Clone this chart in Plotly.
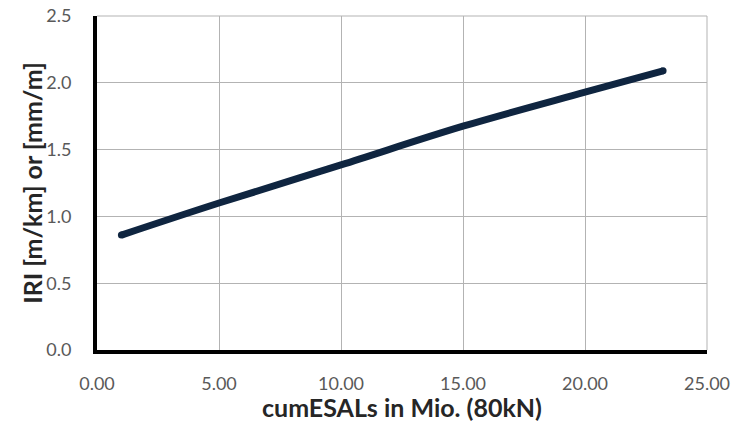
import plotly.graph_objects as go

cum_esals = [1.0, 5.0, 10.0, 15.0, 20.0, 23.2]
iri = [0.86, 1.10, 1.385, 1.675, 1.93, 2.09]

x_ticks = [0, 5, 10, 15, 20, 25]
x_tick_labels = ["0.00", "5.00", "10.00", "15.00", "20.00", "25.00"]
y_ticks = [0, 0.5, 1.0, 1.5, 2.0, 2.5]
y_tick_labels = ["0.0", "0.5", "1.0", "1.5", "2.0", "2.5"]

x_title = "cumESALs in Mio. (80kN)"
y_title = "IRI [m/km] or [mm/m]"

line_color = "#0f2540"
grid_color = "#b3b3b3"
font_family = "Lato, 'Open Sans', sans-serif"

fig = go.Figure()
fig.add_trace(go.Scatter(
    x=cum_esals, y=iri, mode="lines",
    line=dict(color=line_color, width=7, shape="spline"),
    showlegend=False, hoverinfo="skip",
))
fig.add_trace(go.Scatter(
    x=[cum_esals[0], cum_esals[-1]], y=[iri[0], iri[-1]], mode="markers",
    marker=dict(color=line_color, size=7, line=dict(width=0)),
    showlegend=False, hoverinfo="skip",
))

# page body has an 8px default margin, so the figure is sized/placed to compensate
fig.update_layout(
    width=736, height=417,
    margin=dict(l=89, r=37, t=8, b=75),
    paper_bgcolor="white", plot_bgcolor="white",
    font=dict(family=font_family, size=18, color="#595959"),
    xaxis=dict(
        range=[0, 25], tickvals=x_ticks, ticktext=x_tick_labels,
        showgrid=True, gridcolor=grid_color, gridwidth=1,
        showline=True, linecolor="black", linewidth=4,
        zeroline=False, ticks="", ticklabelstandoff=14, automargin=False,
        ticklabeloverflow="allow",
    ),
    yaxis=dict(
        range=[0, 2.5], tickvals=y_ticks, ticktext=y_tick_labels,
        showgrid=True, gridcolor=grid_color, gridwidth=1,
        showline=True, linecolor="black", linewidth=4,
        zeroline=False, ticks="", ticklabelstandoff=18, automargin=False,
        ticklabeloverflow="allow",
    ),
    annotations=[
        dict(text="<b>" + x_title + "</b>", xref="paper", yref="paper",
             x=0.5, y=-0.171, xanchor="center", yanchor="middle",
             showarrow=False, font=dict(size=25, color="#262626")),
        dict(text="<b>" + y_title + "</b>", xref="paper", yref="paper",
             x=-0.107, y=0.5, xanchor="center", yanchor="middle", textangle=-90,
             showarrow=False, font=dict(size=25, color="#262626")),
    ],
)
fig.add_shape(type="line", xref="paper", yref="paper", x0=0, x1=1, y0=1, y1=1,
              line=dict(color=grid_color, width=1), layer="below")
fig.add_shape(type="line", xref="paper", yref="paper", x0=1, x1=1, y0=0, y1=1,
              line=dict(color=grid_color, width=1), layer="below")

fig.write_html("out.html")
